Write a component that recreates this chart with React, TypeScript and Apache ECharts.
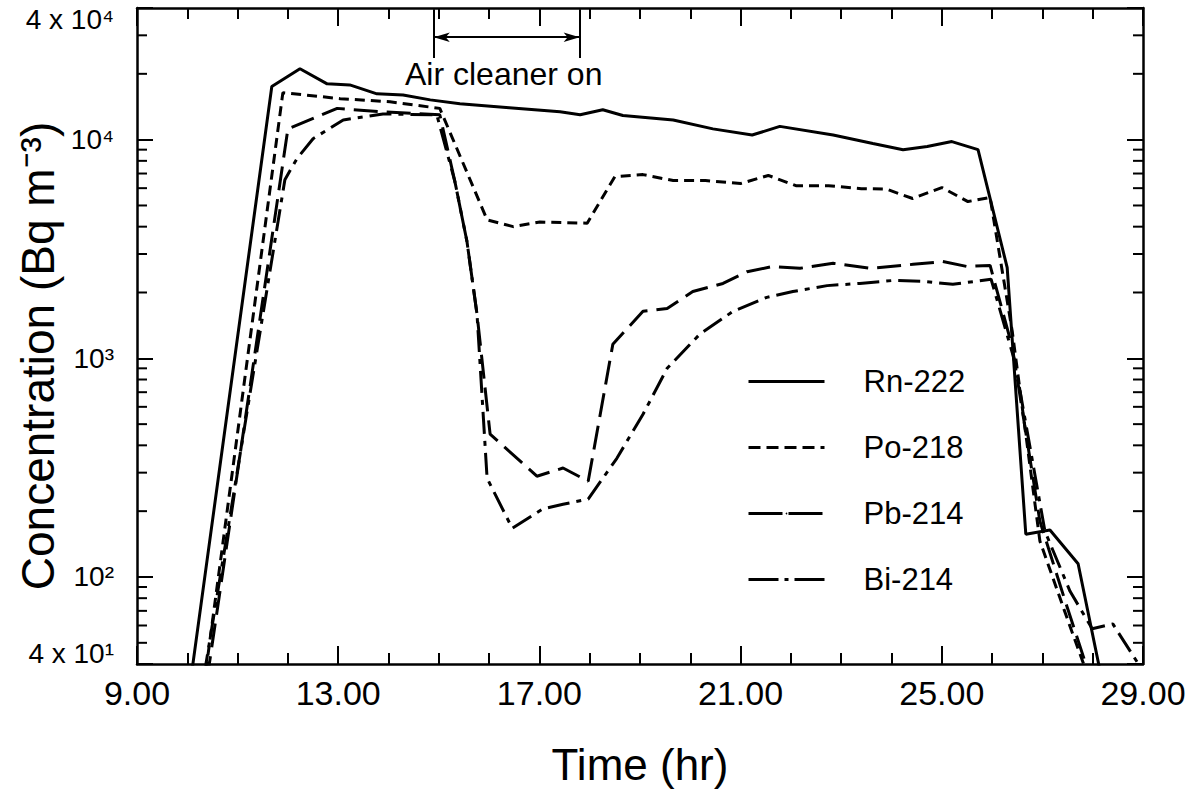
import React, { useEffect, useRef } from 'react';
import * as echarts from 'echarts';

// ---- Data ----
const rnHours = [10.0, 11.68, 12.24, 12.78, 13.23, 13.77, 14.29, 14.83, 15.42, 16.4, 17.41, 17.81, 18.26, 18.66, 19.66, 20.45, 21.23, 21.78, 22.84, 23.63, 24.23, 24.71, 25.2, 25.72, 26.3, 26.67, 27.15, 27.71, 28.3];
const rnValues = [26, 17500, 21100, 18000, 17800, 16200, 16000, 15200, 14600, 14000, 13400, 13000, 13700, 12900, 12300, 11200, 10500, 11500, 10500, 9600, 9000, 9300, 9800, 9000, 2600, 157, 164, 115, 25];

const poHours = [10.2, 11.9, 13.04, 14.03, 15.02, 15.96, 16.48, 17.01, 17.95, 18.5, 19.06, 19.66, 20.3, 21.0, 21.55, 22.1, 22.75, 23.4, 23.9, 24.42, 25.0, 25.52, 25.96, 26.4, 26.95, 27.51, 27.95];
const poValues = [19, 16400, 15400, 14900, 13900, 4300, 4000, 4200, 4150, 6780, 6920, 6500, 6500, 6300, 6860, 6160, 6160, 5970, 5940, 5380, 6040, 5210, 5440, 1330, 146, 63, 33];

const pbHours = [10.2, 12.0, 12.98, 13.89, 15.02, 15.32, 15.56, 15.76, 16.02, 16.95, 17.47, 17.97, 18.46, 19.06, 19.54, 20.05, 20.65, 21.13, 21.64, 22.18, 22.84, 23.57, 24.43, 25.02, 25.5, 25.96, 26.4, 26.95, 27.45, 27.91];
const pbValues = [17, 11200, 13900, 13400, 13000, 6430, 3420, 1590, 450, 289, 315, 274, 1160, 1640, 1690, 2020, 2200, 2490, 2630, 2580, 2720, 2580, 2690, 2770, 2630, 2660, 1130, 180, 78, 37];

const biHours = [10.2, 11.94, 12.18, 12.5, 13.1, 13.89, 14.96, 15.32, 15.56, 15.76, 15.96, 16.46, 17.07, 17.47, 17.97, 18.54, 19.06, 19.54, 20.19, 20.85, 21.52, 22.04, 22.72, 23.37, 24.03, 24.63, 25.22, 25.98, 26.45, 27.05, 27.55, 27.99, 28.4, 28.94];
const biValues = [23, 6560, 8190, 10100, 12300, 13100, 13000, 6430, 3420, 1590, 283, 167, 205, 215, 227, 349, 555, 900, 1290, 1640, 1900, 2020, 2150, 2200, 2270, 2250, 2180, 2300, 970, 162, 86, 58, 61, 39];

const seriesNames = ['Rn-222', 'Po-218', 'Pb-214', 'Bi-214'];

// axis ticks
const xMin = 9;
const xMax = 29;
const xInterval = 4;
const yMin = 40;
const yMax = 40000;
const yMinorTicks = [50, 60, 70, 80, 90, 200, 300, 400, 500, 600, 700, 800, 900, 2000, 3000, 4000, 5000, 6000, 7000, 8000, 9000, 20000, 30000];

// annotation: air cleaner period
const cleanerStart = 14.9;
const cleanerEnd = 17.8;
const annotTop = 39500;
const annotBarBottom = 23600;
const annotArrow = 29400;

const FONT = '"Liberation Sans", Arial, Helvetica, sans-serif';

const zip = (h: number[], v: number[]) => h.map((x, i) => [x, v[i]]);

export default function App() {
  const ref = useRef<HTMLDivElement>(null);

  useEffect(() => {
    const chart = echarts.init(ref.current as HTMLDivElement, null, { renderer: 'svg' });
    const sup: Record<number, string> = { 1: '¹', 2: '²', 3: '³', 4: '⁴' };

    const axisLine = { show: true, lineStyle: { color: '#000', width: 2.5 } };
    const xTick = { show: true, inside: true, length: 18, lineStyle: { color: '#000', width: 2 } };
    const xMinor = { show: true, splitNumber: 4, length: 11, lineStyle: { color: '#000', width: 2 } };
    const yTick = { show: true, inside: true, length: 16, lineStyle: { color: '#000', width: 2 } };

    const lineBase = (name: string, data: number[][], type: any, width = 3) => ({
      name,
      type: 'line',
      data,
      symbol: 'none',
      showSymbol: false,
      clip: true,
      silent: true,
      lineStyle: { color: '#000', width, type },
      itemStyle: { color: '#000' },
    });

    const rn: any = lineBase(seriesNames[0], zip(rnHours, rnValues), 'solid', 3);
    rn.markLine = {
      silent: true,
      symbol: ['none', 'none'],
      label: { show: false },
      lineStyle: { color: '#000', width: 2, type: 'solid' },
      emphasis: { disabled: true },
      data: [
        [{ coord: [cleanerStart, annotTop] }, { coord: [cleanerStart, annotBarBottom] }],
        [{ coord: [cleanerEnd, annotTop] }, { coord: [cleanerEnd, annotBarBottom] }],
        [
          { coord: [cleanerStart, annotArrow], symbol: 'arrow', symbolSize: [7, 16] },
          { coord: [cleanerEnd, annotArrow], symbol: 'arrow', symbolSize: [7, 16] },
        ],
      ],
    };

    const option: any = {
      animation: false,
      backgroundColor: '#fff',
      textStyle: { fontFamily: FONT, color: '#000' },
      grid: { left: 137, right: 56, top: 8, bottom: 128, containLabel: false, outerBoundsMode: 'none' },
      legend: {
        orient: 'vertical',
        left: 742,
        top: 361,
        itemWidth: 76,
        itemHeight: 2,
        itemGap: 35,
        selectedMode: false,
        itemStyle: { borderWidth: 0 },
        data: [
          { name: seriesNames[0], lineStyle: { type: 'solid', width: 3 } },
          { name: seriesNames[1], lineStyle: { type: [12, 6], width: 3 } },
          { name: seriesNames[2], lineStyle: { type: [34, 6], width: 3 } },
          { name: seriesNames[3], lineStyle: { type: [30, 6, 4, 6], width: 3 } },
        ],
        textStyle: { fontSize: 31, fontFamily: FONT, color: '#000', lineHeight: 30, padding: [0, 0, 0, 34] },
      },
      xAxis: [
        {
          type: 'value', min: xMin, max: xMax, interval: xInterval, position: 'bottom',
          axisLine, axisTick: xTick, minorTick: xMinor, splitLine: { show: false },
          axisLabel: {
            formatter: (v: number) => v.toFixed(2), fontSize: 34, color: '#000', fontFamily: FONT, margin: 12,
          },
          name: 'Time (hr)', nameLocation: 'middle', nameGap: 78, nameMoveOverlap: false,
          nameTextStyle: { fontSize: 44, fontFamily: FONT, color: '#000' },
        },
        {
          type: 'value', min: xMin, max: xMax, interval: xInterval, position: 'top',
          axisLine, axisTick: xTick, minorTick: xMinor, splitLine: { show: false },
          axisLabel: { show: false },
        },
      ],
      yAxis: [
        {
          type: 'log', logBase: 10, min: yMin, max: yMax, position: 'left',
          axisLine, axisTick: yTick, splitLine: { show: false },
          axisLabel: {
            margin: 23,
            color: '#000',
            fontFamily: FONT,
            fontSize: 28,
            lineHeight: 22,
            showMinLabel: true,
            showMaxLabel: true,
            formatter: (v: number) => {
              if (Math.abs(v - yMax) < 100) return '\n4 x 10⁴';
              if (Math.abs(v - yMin) < 1) return '4 x 10¹\n';
              const e = Math.round(Math.log10(v));
              return '10' + (sup[e] || '');
            },
          },
          name: 'Concentration (Bq m⁻³)', nameLocation: 'middle', nameGap: 76, nameRotate: 90,
          nameMoveOverlap: false,
          nameTextStyle: { fontSize: 46, fontFamily: FONT, color: '#000', padding: [0, 40, 0, 0] },
        },
        {
          type: 'log', logBase: 10, min: yMin, max: yMax, position: 'right',
          axisLine, axisTick: yTick, splitLine: { show: false },
          axisLabel: { show: false },
        },
      ],
      graphic: [
        {
          type: 'text', left: 405, top: 58, silent: true,
          style: { text: 'Air cleaner on', font: '32px "Liberation Sans", Arial, sans-serif', fill: '#000' },
        },
      ],
      series: [
        rn,
        lineBase(seriesNames[1], zip(poHours, poValues), [10, 6]),
        lineBase(seriesNames[2], zip(pbHours, pbValues), [24, 9]),
        lineBase(seriesNames[3], zip(biHours, biValues), [22, 7, 5, 7]),
        {
          name: 'minorTicks',
          type: 'custom',
          silent: true,
          clip: false,
          xAxisIndex: 0,
          yAxisIndex: 0,
          data: yMinorTicks.map((v) => [xMin, v]),
          encode: { x: 0, y: 1 },
          renderItem: (params: any, api: any) => {
            const p = api.coord([xMin, api.value(1)]);
            const cs = params.coordSys;
            const st = { stroke: '#000', lineWidth: 2 };
            return {
              type: 'group',
              children: [
                { type: 'line', shape: { x1: cs.x, y1: p[1], x2: cs.x + 10, y2: p[1] }, style: st },
                { type: 'line', shape: { x1: cs.x + cs.width - 10, y1: p[1], x2: cs.x + cs.width, y2: p[1] }, style: st },
              ],
            };
          },
        },
      ],
    };

    chart.setOption(option);
    return () => {
      chart.dispose();
    };
  }, []);

  return (
    <div
      ref={ref}
      style={{ position: 'absolute', left: 0, top: 0, width: 1199, height: 792, background: '#fff' }}
    />
  );
}
